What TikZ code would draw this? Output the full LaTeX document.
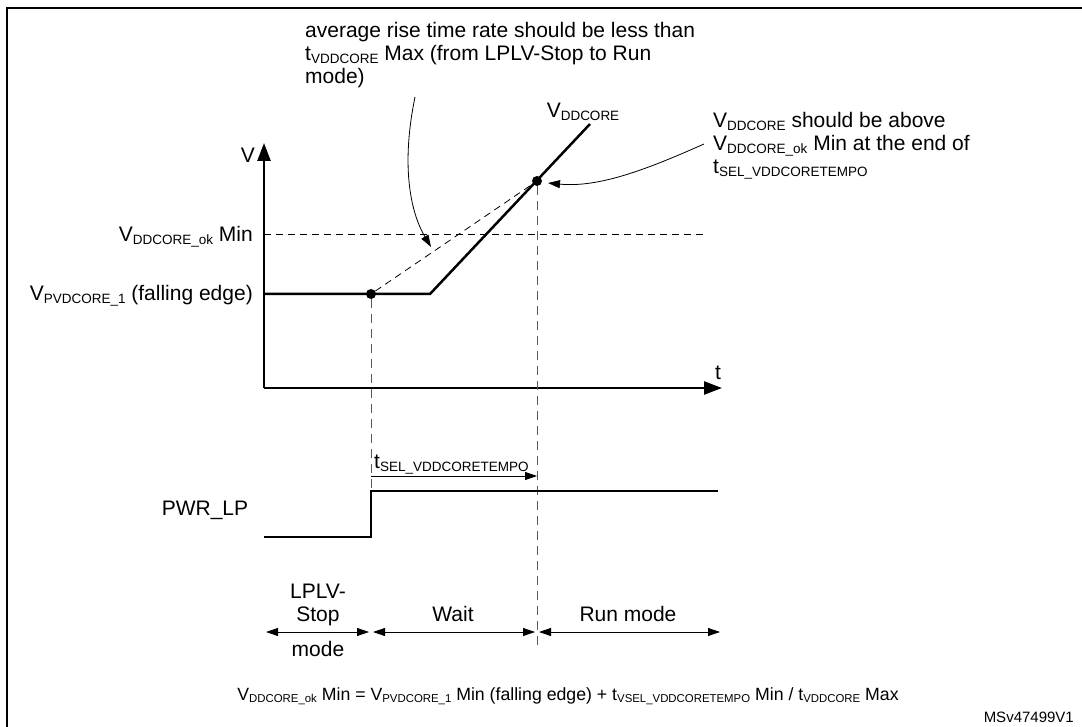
\documentclass[tikz,border=0pt]{standalone}
\usepackage{fontspec}
\setmainfont{Liberation Sans}
\usetikzlibrary{arrows.meta}
\newcommand\sbs[1]{\raisebox{-3pt}{\fontsize{13.5}{14}\selectfont #1}}
\newcommand\sbsf[1]{\raisebox{-2.5pt}{\fontsize{11.4}{12}\selectfont #1}}
\begin{document}
\begin{tikzpicture}[x=1pt,y=-1pt,
  font=\fontsize{21}{23}\selectfont,
  txt/.style={inner sep=0pt},
  frameline/.style={line width=2pt},
  thickline/.style={line width=2.5pt, line join=miter},
  dashline/.style={line width=0.8pt, dash pattern=on 7pt off 5pt},
  vdash/.style={line width=0.8pt, gray!70!black, dash pattern=on 9pt off 6pt},
  axisarrow/.style={line width=2.5pt, -{Triangle[length=18pt,width=13pt]}},
  smallarrow/.style={line width=0.8pt, -{Triangle[length=12pt,width=8pt]}},
  dblarrow/.style={line width=0.8pt, {Triangle[length=12pt,width=8pt]}-{Triangle[length=12pt,width=8pt]}},
  dot/.style={circle, fill=black, inner sep=0pt, minimum size=10pt}]
\useasboundingbox (0,0) rectangle (1082,727);
% frame
\coordinate (fTL) at (7,8);
\coordinate (fTR) at (1082,8);
\coordinate (fBL) at (7,727);
\draw[frameline] (fBL) -- (fTL) -- (fTR);
% axes
\coordinate (O) at (264,388);
\coordinate (Ytip) at (264,143);
\coordinate (Ttip) at (722,388);
\draw[axisarrow] (O) -- (Ytip);
\draw[axisarrow] (O) -- (Ttip);
\node[txt, anchor=base] (Vlab) at (248,163) {V};
\node[txt, anchor=base] (tlab) at (718,380) {t};
% level lines
\coordinate (okL) at (264,234);
\coordinate (okR) at (706,234);
\draw[dashline] (okL) -- (okR);
\node[txt, anchor=base east] (oklab) at (253,242) {V\sbs{DDCORE\_ok} Min};
\node[txt, anchor=base east] (pvdlab) at (253,301) {V\sbs{PVDCORE\_1} (falling edge)};
% curve
\coordinate (c0) at (264,294);
\coordinate (c1) at (430,294);
\coordinate (c2) at (590,124);
\draw[thickline] (c0) -- (c1) -- (c2);
\node[txt, anchor=base] (vddlab) at (583,118) {V\sbs{DDCORE}};
\node[dot] (d1) at (371,294) {};
\node[dot] (d2) at (537,181) {};
\draw[dashline] (d1) -- (d2);
% vertical dashed lines
\coordinate (v1b) at (371,491);
\coordinate (v2b) at (537,650);
\draw[vdash] (d1.south) -- (v1b);
\draw[vdash] (d2.south) -- (v2b);
% t_SEL arrow
\coordinate (ts0) at (371,476);
\coordinate (ts1) at (537,476);
\draw[smallarrow] (ts0) -- (ts1);
\node[txt, anchor=base west] (tslab) at (374,468) {t\sbs{SEL\_VDDCORETEMPO}};
% PWR_LP
\coordinate (p0) at (264,537);
\coordinate (p1) at (371,537);
\coordinate (p2) at (371,491);
\coordinate (p3) at (718,491);
\draw[thickline] (p0) -- (p1) -- (p2) -- (p3);
\node[txt, anchor=base] (pwrlab) at (205,515) {PWR\_LP};
% phases
\coordinate (a0) at (266,632);
\coordinate (a1) at (369,632);
\coordinate (a2) at (373,632);
\coordinate (a3) at (535,632);
\coordinate (a4) at (539,632);
\coordinate (a5) at (720,632);
\draw[dblarrow] (a0) -- (a1);
\draw[dblarrow] (a2) -- (a3);
\draw[dblarrow] (a4) -- (a5);
\node[txt, anchor=base] (ph1a) at (318,598) {LPLV-};
\node[txt, anchor=base] (ph1b) at (318,621) {Stop};
\node[txt, anchor=base] (ph1c) at (318,656) {mode};
\node[txt, anchor=base] (ph2) at (453,621) {Wait};
\node[txt, anchor=base] (ph3) at (628,621) {Run mode};
% annotations
\node[txt, anchor=north west, align=left] (ann1) at (305,22)
  {average rise time rate should be less than\\t\sbs{VDDCORE} Max (from LPLV-Stop to Run\\mode)};
\coordinate (ann1s) at (415,97);
\draw[smallarrow] (ann1s) .. controls (400,170) and (412,215) .. (431,247);
\node[txt, anchor=north west, align=left] (ann2) at (713,112)
  {V\sbs{DDCORE} should be above\\V\sbs{DDCORE\_ok} Min at the end of\\t\sbs{SEL\_VDDCORETEMPO}};
\coordinate (ann2s) at (704,144);
\draw[smallarrow] (ann2s) .. controls (650,168) and (600,188) .. (548,183);
% formula
\node[txt, anchor=base, font=\fontsize{17.7}{20}\selectfont] (formula) at (568,700)
  {V\sbsf{DDCORE\_ok} Min = V\sbsf{PVDCORE\_1} Min (falling edge) + t\sbsf{VSEL\_VDDCORETEMPO} Min / t\sbsf{VDDCORE} Max};
\node[txt, anchor=base east, font=\fontsize{15}{17}\selectfont] (ms) at (1074,722) {MSv47499V1};
\end{tikzpicture}
\end{document}
